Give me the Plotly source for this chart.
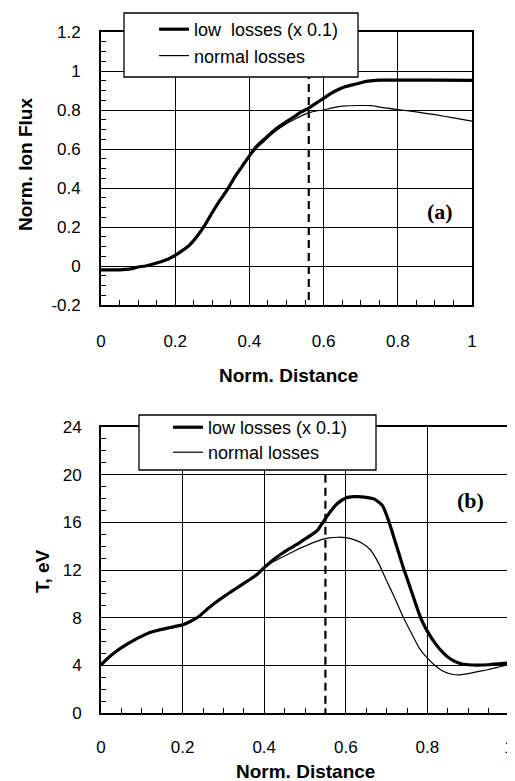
import plotly.graph_objects as go

# ---------------- data ----------------
# (a) Norm. Ion Flux vs Norm. Distance
flux_low_x = [0, 0.05, 0.08, 0.10, 0.12, 0.15, 0.18, 0.20, 0.22, 0.24, 0.26, 0.28, 0.30, 0.32,
              0.34, 0.36, 0.38, 0.40, 0.42, 0.44, 0.46, 0.48, 0.50, 0.52, 0.54, 0.56, 0.58,
              0.60, 0.62, 0.64, 0.66, 0.68, 0.70, 0.72, 0.75, 0.80, 0.90, 1.00]
flux_low_y = [-0.02, -0.02, -0.015, -0.005, 0.0, 0.015, 0.035, 0.055, 0.08, 0.11, 0.155, 0.21,
              0.275, 0.335, 0.39, 0.455, 0.51, 0.565, 0.615, 0.65, 0.685, 0.715, 0.74, 0.765,
              0.79, 0.81, 0.835, 0.86, 0.885, 0.905, 0.92, 0.93, 0.94, 0.948, 0.953, 0.953,
              0.953, 0.952]

flux_norm_x = [0, 0.05, 0.07, 0.10, 0.12, 0.15, 0.18, 0.20, 0.22, 0.24, 0.26, 0.28, 0.30, 0.32,
               0.34, 0.36, 0.38, 0.40, 0.42, 0.44, 0.46, 0.48, 0.50, 0.52, 0.54, 0.56, 0.58,
               0.60, 0.62, 0.65, 0.70, 0.73, 0.76, 0.80, 0.85, 0.90, 0.95, 1.00]
flux_norm_y = [-0.02, -0.02, -0.02, -0.005, 0.0, 0.015, 0.035, 0.055, 0.08, 0.11, 0.155, 0.21,
               0.275, 0.335, 0.39, 0.455, 0.51, 0.56, 0.605, 0.64, 0.675, 0.705, 0.73, 0.75,
               0.77, 0.785, 0.795, 0.80, 0.81, 0.82, 0.823, 0.822, 0.812, 0.802, 0.79, 0.776,
               0.76, 0.743]

# (b) T, eV vs Norm. Distance
temp_low_x = [0, 0.02, 0.04, 0.06, 0.08, 0.10, 0.12, 0.14, 0.16, 0.18, 0.20, 0.22, 0.24, 0.26,
              0.28, 0.30, 0.32, 0.34, 0.36, 0.38, 0.40, 0.42, 0.44, 0.46, 0.48, 0.50, 0.52,
              0.53, 0.54, 0.56, 0.58, 0.60, 0.62, 0.65, 0.67, 0.69, 0.70, 0.71, 0.72, 0.73,
              0.74, 0.75, 0.76, 0.77, 0.78, 0.79, 0.80, 0.82, 0.84, 0.86, 0.88, 0.90, 0.95,
              0.98, 1.00]
temp_low_y = [4.05, 4.7, 5.25, 5.7, 6.1, 6.45, 6.75, 6.95, 7.1, 7.25, 7.4, 7.7, 8.1, 8.7, 9.25,
              9.75, 10.2, 10.65, 11.1, 11.55, 12.2, 12.8, 13.3, 13.75, 14.15, 14.6, 15.05,
              15.3, 15.8, 16.8, 17.6, 18.05, 18.15, 18.1, 17.95, 17.4, 16.6, 15.6, 14.5, 13.4,
              12.3, 11.3, 10.3, 9.3, 8.3, 7.5, 6.85, 5.8, 5.0, 4.45, 4.15, 4.05, 4.05, 4.15,
              4.2]

temp_norm_x = [0, 0.02, 0.04, 0.06, 0.08, 0.10, 0.12, 0.14, 0.16, 0.18, 0.20, 0.22, 0.24, 0.26,
               0.28, 0.30, 0.32, 0.34, 0.36, 0.38, 0.40, 0.42, 0.44, 0.46, 0.48, 0.50, 0.52,
               0.54, 0.56, 0.58, 0.60, 0.62, 0.64, 0.66, 0.68, 0.70, 0.72, 0.74, 0.76, 0.78,
               0.80, 0.82, 0.84, 0.86, 0.88, 0.90, 0.92, 0.95, 0.98, 1.00]
temp_norm_y = [4.0, 4.65, 5.2, 5.65, 6.05, 6.4, 6.7, 6.9, 7.05, 7.2, 7.35, 7.7, 8.1, 8.7, 9.25,
               9.75, 10.2, 10.65, 11.1, 11.55, 12.2, 12.65, 13.0, 13.35, 13.7, 14.0, 14.3,
               14.55, 14.7, 14.75, 14.72, 14.55, 14.25, 13.7, 12.6, 11.1, 9.65, 8.1, 6.75,
               5.45, 4.6, 3.95, 3.48, 3.25, 3.2, 3.3, 3.45, 3.65, 3.9, 4.05]

marker_a_x = 0.56
marker_a_y = [1.0, -0.2]
marker_b_x = 0.55
marker_b_y = [20, 0]

name_low_a = "low  losses (x 0.1)"
name_low_b = "low losses (x 0.1)"
name_norm = "normal losses"

x_ticks = [0, 0.2, 0.4, 0.6, 0.8, 1]
x_tick_text = ["0", "0.2", "0.4", "0.6", "0.8", "1"]
ya_ticks = [-0.2, 0, 0.2, 0.4, 0.6, 0.8, 1.0, 1.2]
ya_tick_text = ["-0.2", "0", "0.2", "0.4", "0.6", "0.8", "1", "1.2"]
yb_ticks = [0, 4, 8, 12, 16, 20, 24]
yb_tick_text = ["0", "4", "8", "12", "16", "20", "24"]

# ---------------- figure ----------------
WIN_W, WIN_H = 515, 781
OFF = 8                      # default page body margin
W, H = WIN_W - OFF, WIN_H - OFF
FONT = "Liberation Sans, Arial, Helvetica, sans-serif"
SERIF = "Liberation Serif, Times New Roman, serif"


def px_x(p):
    return (p - OFF) / W


def px_y(p):
    return 1 - (p - OFF) / H


fig = go.Figure()

thick = dict(color="black", width=3.2, shape="spline", smoothing=0.6)
thin = dict(color="black", width=1.2, shape="spline", smoothing=0.6)
dashed = dict(color="black", width=2.2, dash="8px,5px")

# (a)
fig.add_trace(go.Scatter(x=flux_low_x, y=flux_low_y, mode="lines", name=name_low_a,
                         line=thick, xaxis="x", yaxis="y", legend="legend",
                         legendgroup="a1"))
fig.add_trace(go.Scatter(x=flux_norm_x, y=flux_norm_y, mode="lines", name=name_norm,
                         line=thin, xaxis="x", yaxis="y", legend="legend",
                         legendgroup="a2"))
fig.add_trace(go.Scatter(x=[marker_a_x, marker_a_x], y=marker_a_y, mode="lines",
                         line=dashed, showlegend=False, xaxis="x", yaxis="y"))
# (b)
fig.add_trace(go.Scatter(x=temp_low_x, y=temp_low_y, mode="lines", name=name_low_b,
                         line=thick, xaxis="x2", yaxis="y2", legend="legend2"))
fig.add_trace(go.Scatter(x=temp_norm_x, y=temp_norm_y, mode="lines", name=name_norm,
                         line=thin, xaxis="x2", yaxis="y2", legend="legend3"))
fig.add_trace(go.Scatter(x=[marker_b_x, marker_b_x], y=marker_b_y, mode="lines",
                         line=dashed, showlegend=False, xaxis="x2", yaxis="y2"))

tickfont = dict(family=FONT, size=17, color="black")


def xaxis(domain, anchor, standoff):
    return dict(domain=domain, anchor=anchor, range=[0, 1], tickvals=x_ticks,
                ticktext=x_tick_text, showgrid=True, gridcolor="black", gridwidth=1.3,
                showline=True, linecolor="black", linewidth=1.8, mirror=True,
                ticks="inside", ticklen=5, tickwidth=1.3, tickcolor="black",
                minor=dict(dtick=0.05, tick0=0, ticks="inside", ticklen=5, tickwidth=1.3,
                           tickcolor="black", showgrid=False),
                tickfont=tickfont, ticklabelstandoff=standoff, zeroline=False,
                automargin=False, fixedrange=True)


def yaxis(domain, anchor, rng, tv, tt, minor_dtick, standoff):
    return dict(domain=domain, anchor=anchor, range=rng, tickvals=tv, ticktext=tt,
                showgrid=True, gridcolor="black", gridwidth=1.3,
                showline=True, linecolor="black", linewidth=1.8, mirror=True,
                ticks="inside", ticklen=5, tickwidth=1.3, tickcolor="black",
                minor=dict(dtick=minor_dtick, tick0=0, ticks="inside", ticklen=5,
                           tickwidth=1.3, tickcolor="black", showgrid=False),
                tickfont=tickfont, ticklabelstandoff=standoff, zeroline=False,
                automargin=False, fixedrange=True)


def title_ann(text, x, y, angle=0):
    return dict(text=text, xref="paper", yref="paper", x=px_x(x), y=px_y(y),
                xanchor="center", yanchor="middle", textangle=angle, showarrow=False,
                font=dict(family=FONT, size=19, color="black"))


def legend_at(x, y, gap=0):
    return dict(x=px_x(x), y=px_y(y), xanchor="left", yanchor="top",
                bgcolor="rgba(0,0,0,0)", borderwidth=0, tracegroupgap=gap,
                font=dict(family=FONT, size=18, color="black"))


fig.update_layout(
    template="none",
    width=W, height=H,
    margin=dict(l=0, r=0, t=0, b=0, pad=0),
    paper_bgcolor="white", plot_bgcolor="white",
    font=dict(family=FONT, color="black"),
    xaxis=xaxis([px_x(101), px_x(472)], "y", 20),
    yaxis=yaxis([px_y(305), px_y(32)], "x", [-0.2, 1.2], ya_ticks, ya_tick_text, 0.05, 15),
    xaxis2=xaxis([px_x(101), px_x(509)], "y2", 18),
    yaxis2=yaxis([px_y(713), px_y(427)], "x2", [0, 24], yb_ticks, yb_tick_text, 1, 14),
    legend=legend_at(154, 11, 0),
    legend2=legend_at(168, 409),
    legend3=legend_at(168, 434),
    shapes=[
        dict(type="rect", xref="paper", yref="paper", x0=px_x(124), x1=px_x(358),
             y0=px_y(77), y1=px_y(13), fillcolor="white", line=dict(color="black", width=1.3),
             layer="above"),
        dict(type="rect", xref="paper", yref="paper", x0=px_x(139), x1=px_x(376),
             y0=px_y(470), y1=px_y(415), fillcolor="white", line=dict(color="black", width=1.3),
             layer="above"),
    ],
    annotations=[
        title_ann("<b>Norm. Ion Flux</b>", 25, 165, -90),
        title_ann("<b>Norm. Distance</b>", 288, 375),
        title_ann("<b>T, eV</b>", 42, 571, -90),
        title_ann("<b>Norm. Distance</b>", 305, 771),
        dict(text="<b>(a)</b>", xref="paper", yref="paper", x=px_x(440), y=px_y(212),
             xanchor="center", yanchor="middle", showarrow=False,
             font=dict(family=SERIF, size=22, color="black")),
        dict(text="<b>(b)</b>", xref="paper", yref="paper", x=px_x(470), y=px_y(500),
             xanchor="center", yanchor="middle", showarrow=False,
             font=dict(family=SERIF, size=22, color="black")),
    ],
    showlegend=True,
)

fig.write_html("out.html", config={"displayModeBar": False})
